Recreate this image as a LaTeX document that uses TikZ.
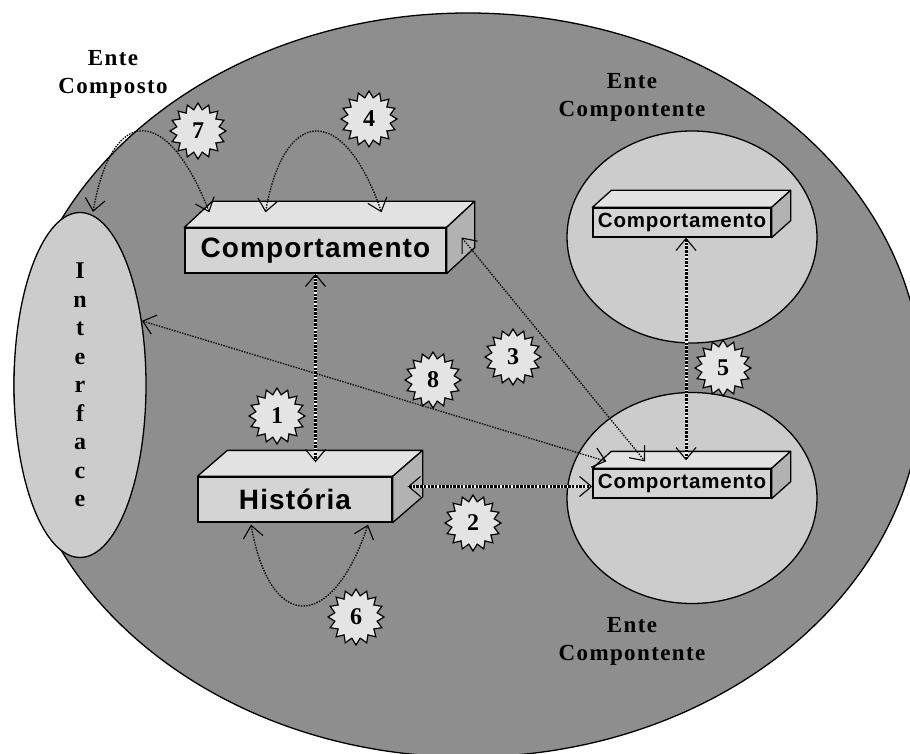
\documentclass[tikz,border=0pt]{standalone}
\usepackage{fontspec}
\setmainfont{Liberation Serif}
\newfontfamily\caixafont[LetterSpace=4]{Liberation Sans}
\newfontfamily\rotulofont[LetterSpace=6]{Liberation Serif}
\usepackage{tikz}
\usetikzlibrary{arrows.meta,shapes.geometric,positioning,calc}
\definecolor{fundo}{HTML}{8E8E8E}
\definecolor{claro}{HTML}{CCCCCC}
\definecolor{frente}{HTML}{D4D4D4}
\definecolor{topo}{HTML}{E2E2E2}
\definecolor{lado}{HTML}{B2B2B2}
\definecolor{estrelacor}{HTML}{E4E4E4}
\tikzset{
  ente/.style={ellipse,draw,line width=1.3pt,inner sep=0pt},
  frentebox/.style={rectangle,draw,line width=1.3pt,fill=frente,inner sep=0pt},
  topobox/.style={draw,line width=1.3pt,fill=topo,line join=round},
  ladobox/.style={draw,line width=1.3pt,fill=lado,line join=round},
  estrela/.style={star,star points=16,star point ratio=1.3,draw,line width=1.2pt,fill=estrelacor,
    minimum size=56pt,inner sep=0pt,font=\bfseries\fontsize{24}{24}\selectfont},
  rotulo/.style={align=center,font=\rotulofont\bfseries\fontsize{23}{28}\selectfont},
  seta/.style={<->,line width=1.3pt,dash pattern=on 1.4pt off 1.3pt},
  setagrossa/.style={<->,line width=3pt,dash pattern=on 2.5pt off 1.2pt,
    preaction={draw=white,solid,arrows=-,line width=3pt}},
  >={Straight Barb[length=12pt,width=20pt,line width=1.1pt]}
}
\newcommand{\faces}[3]{%
  \draw[topobox] (#1.north west) -- ++(#2,#3) -- ($(#1.north east)+(#2,#3)$) -- (#1.north east) -- cycle;
  \draw[ladobox] (#1.north east) -- ++(#2,#3) -- ($(#1.south east)+(#2,#3)$) -- (#1.south east) -- cycle;}
\begin{document}
\begin{tikzpicture}[x=1pt,y=-1pt]
\useasboundingbox (0,0) rectangle (910,754);
\node[ente,fill=fundo,minimum width=908pt,minimum height=744pt] (composto) at (468,385) {};
\node[ente,fill=claro,minimum width=132pt,minimum height=344pt,align=center,
  font=\bfseries\fontsize{24}{28.5}\selectfont] (iface) at (80,385) {I\\n\\t\\e\\r\\f\\a\\c\\e};
\node[ente,fill=claro,minimum width=250pt,minimum height=212pt] (entea) at (692,237) {};
\node[ente,fill=claro,minimum width=250pt,minimum height=211pt] (enteb) at (692,498) {};

\node[frentebox,minimum width=261pt,minimum height=45pt,font=\caixafont\bfseries\fontsize{28}{28}\selectfont] (comp) at (315.5,250.5) {Comportamento};
\faces{comp}{28}{-26}
\node[frentebox,minimum width=194pt,minimum height=45pt,font=\caixafont\bfseries\fontsize{28}{28}\selectfont] (hist) at (295,499.5) {História};
\faces{hist}{30}{-26}
\node[frentebox,minimum width=178pt,minimum height=29pt,font=\caixafont\bfseries\fontsize{20.5}{20.5}\selectfont] (compa) at (682,222.5) {Comportamento};
\faces{compa}{19}{-17}
\node[frentebox,minimum width=178pt,minimum height=29pt,font=\caixafont\bfseries\fontsize{20.5}{20.5}\selectfont] (compb) at (682,483.5) {Comportamento};
\faces{compb}{19}{-17}

\coordinate (hside) at ($(hist.east)+(15,-13)$);
\draw[setagrossa] (comp.south) -- ($(comp.south |- hist.north)+(0,-14)$);
\draw[setagrossa] (hside) -- (hside -| compb.west);
\draw[setagrossa] ($(compa.south)+(4,0)$) -- ($(compb.north)+(4,-8)$);
\draw[seta] ($(comp.east)+(15,-13)$) -- ($(compb.north)+(-37,-7)$);
\draw[seta] (iface.46) -- ($(compb.north west)+(14,-7)$);
\draw[seta] ($(comp.north)+(-50,-15)$) .. controls +(19,-108) and +(-37,-108) .. ($(comp.north)+(66,-15)$);
\draw[seta] ($(iface.north)+(13,0)$) .. controls +(19,-108) and +(-42,-108) .. ($(comp.north west)+(25,-15)$);
\draw[seta] ($(hist.south)+(-44,2)$) .. controls +(19,108) and +(-36,108) .. ($(hist.south)+(73,2)$);

\node[estrela] (e1) at (277,416) {1};
\node[estrela] (e2) at (473,523) {2};
\node[estrela] (e3) at (513,357) {3};
\node[estrela] (e4) at (369,119) {4};
\node[estrela] (e5) at (723,368) {5};
\node[estrela] (e6) at (356,617) {6};
\node[estrela] (e7) at (198,131) {7};
\node[estrela] (e8) at (433,380) {8};

\node[rotulo] (rcomposto) at (113,74) {Ente\\Composto};
\node[rotulo] (rentea) at (632,97) {Ente\\Compontente};
\node[rotulo] (renteb) at (632,641) {Ente\\Compontente};
\end{tikzpicture}
\end{document}
